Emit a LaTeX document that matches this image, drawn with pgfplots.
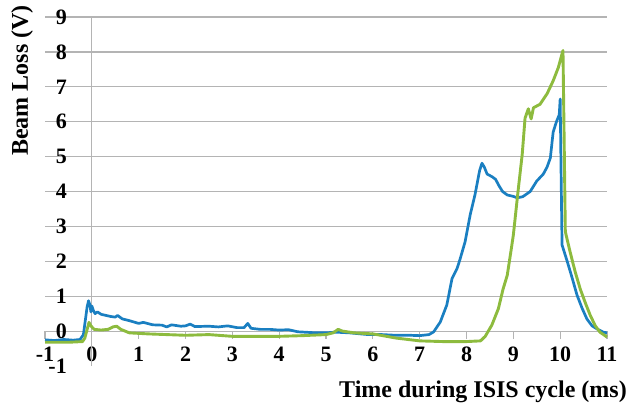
\documentclass[border=0pt]{standalone}
\usepackage{fontspec}
\setmainfont{Liberation Serif}
\usepackage{pgfplots}
\pgfplotsset{compat=1.18}
\definecolor{bl}{HTML}{1A7FC1}
\definecolor{gr}{HTML}{8DBB3E}
\definecolor{gridc}{HTML}{B4B4B4}
\begin{document}
\begin{tikzpicture}
\begin{axis}[
  scale only axis, width=562pt, height=349pt,
  xmin=-1, xmax=11, ymin=-1, ymax=9,
  axis x line=middle, axis y line=left,
  hide obscured x ticks=false,
  x axis line style={draw=gridc, line width=1.2pt, -},
  y axis line style={draw=none},
  xtick={-1,...,11}, ytick={0,...,9},
  extra y ticks={-1}, extra y tick style={grid=none},
  xtick align=outside, major tick length=8pt,
  xtick style={draw=gridc, line width=1.2pt},
  ytick style={draw=none},
  ymajorgrids, grid style={draw=gridc, line width=1.2pt},
  /pgf/number format/assume math mode=true,
  ticklabel style={font=\fontsize{22}{24}\selectfont\bfseries},
  yticklabel style={anchor=east, inner sep=0pt, xshift=26pt},
  xticklabel style={anchor=north, inner sep=0pt, yshift=-8pt},
  clip=false,
]
\addplot[draw=gridc, line width=1.2pt] coordinates {(0,-1) (0,9)};
\addplot[bl, line width=2.7pt, line join=round] coordinates {
(-1,-0.25)(-0.8,-0.27)(-0.6,-0.24)(-0.4,-0.26)(-0.25,-0.24)(-0.18,-0.1)(-0.14,0.3)(-0.1,0.7)(-0.07,0.87)(-0.04,0.75)(-0.02,0.55)(0.0,0.72)(0.03,0.6)(0.07,0.5)(0.12,0.55)(0.2,0.48)(0.3,0.45)(0.4,0.42)(0.5,0.4)(0.55,0.45)(0.65,0.35)(0.8,0.3)(1.0,0.22)(1.1,0.25)(1.3,0.18)(1.5,0.17)(1.6,0.12)(1.7,0.18)(1.9,0.14)(2.0,0.15)(2.1,0.2)(2.2,0.13)(2.5,0.14)(2.7,0.12)(2.9,0.15)(3.1,0.1)(3.25,0.1)(3.33,0.22)(3.4,0.08)(3.6,0.05)(3.8,0.05)(4.0,0.03)(4.2,0.04)(4.4,-0.02)(4.8,-0.05)(5.0,-0.05)(5.2,-0.03)(5.5,-0.05)(5.9,-0.1)(6.2,-0.1)(6.5,-0.12)(6.8,-0.12)(7.0,-0.13)(7.2,-0.1)(7.3,-0.02)(7.44,0.26)(7.58,0.75)(7.69,1.5)(7.8,1.8)(7.86,2.05)(7.97,2.56)(8.08,3.34)(8.18,3.9)(8.28,4.6)(8.33,4.81)(8.38,4.7)(8.44,4.5)(8.55,4.42)(8.62,4.35)(8.7,4.15)(8.77,4.0)(8.87,3.9)(9.0,3.86)(9.08,3.82)(9.2,3.85)(9.36,4.0)(9.5,4.3)(9.64,4.5)(9.72,4.7)(9.79,4.96)(9.85,5.7)(9.92,6.0)(9.98,6.2)(10.0,6.65)(10.02,4.5)(10.04,2.47)(10.15,2.0)(10.25,1.55)(10.36,1.03)(10.47,0.65)(10.57,0.35)(10.68,0.15)(10.79,0.06)(10.92,-0.03)(11,-0.05)
};
\addplot[gr, line width=2.9pt, line join=round] coordinates {
(-1,-0.32)(-0.5,-0.32)(-0.2,-0.3)(-0.15,-0.2)(-0.1,0.05)(-0.06,0.25)(-0.02,0.15)(0.05,0.05)(0.2,0.03)(0.35,0.05)(0.45,0.12)(0.53,0.14)(0.62,0.05)(0.8,-0.05)(1.2,-0.08)(1.6,-0.1)(2.0,-0.12)(2.5,-0.1)(3.0,-0.15)(3.5,-0.15)(4.0,-0.15)(4.5,-0.13)(5.0,-0.1)(5.15,-0.05)(5.26,0.05)(5.35,0.0)(5.6,-0.05)(6.0,-0.08)(6.5,-0.2)(7.0,-0.28)(7.5,-0.3)(8.0,-0.3)(8.3,-0.28)(8.4,-0.15)(8.54,0.17)(8.68,0.64)(8.78,1.2)(8.87,1.6)(8.95,2.3)(9.0,2.75)(9.1,4.0)(9.19,5.07)(9.25,6.1)(9.32,6.37)(9.38,6.08)(9.43,6.4)(9.57,6.5)(9.72,6.8)(9.85,7.17)(9.96,7.55)(10.06,8.04)(10.08,6.0)(10.11,2.85)(10.21,2.28)(10.32,1.7)(10.43,1.2)(10.54,0.8)(10.64,0.46)(10.75,0.15)(10.85,-0.03)(11,-0.17)
};
\end{axis}
\node[rotate=90, anchor=east, inner sep=0pt, font=\fontsize{24}{26}\selectfont\bfseries]
  at ([xshift=-23pt,yshift=12pt]current axis.north west) {Beam Loss (V)};
\node[anchor=base east, inner sep=0pt, font=\fontsize{24}{26}\selectfont\bfseries]
  at ([xshift=20pt,yshift=-31pt]current axis.south east) {Time during ISIS cycle (ms)};
\pgfresetboundingbox
\useasboundingbox ([xshift=-45pt,yshift=-39pt]current axis.south west) rectangle ([xshift=27pt,yshift=17pt]current axis.north east);
\end{tikzpicture}
\end{document}
